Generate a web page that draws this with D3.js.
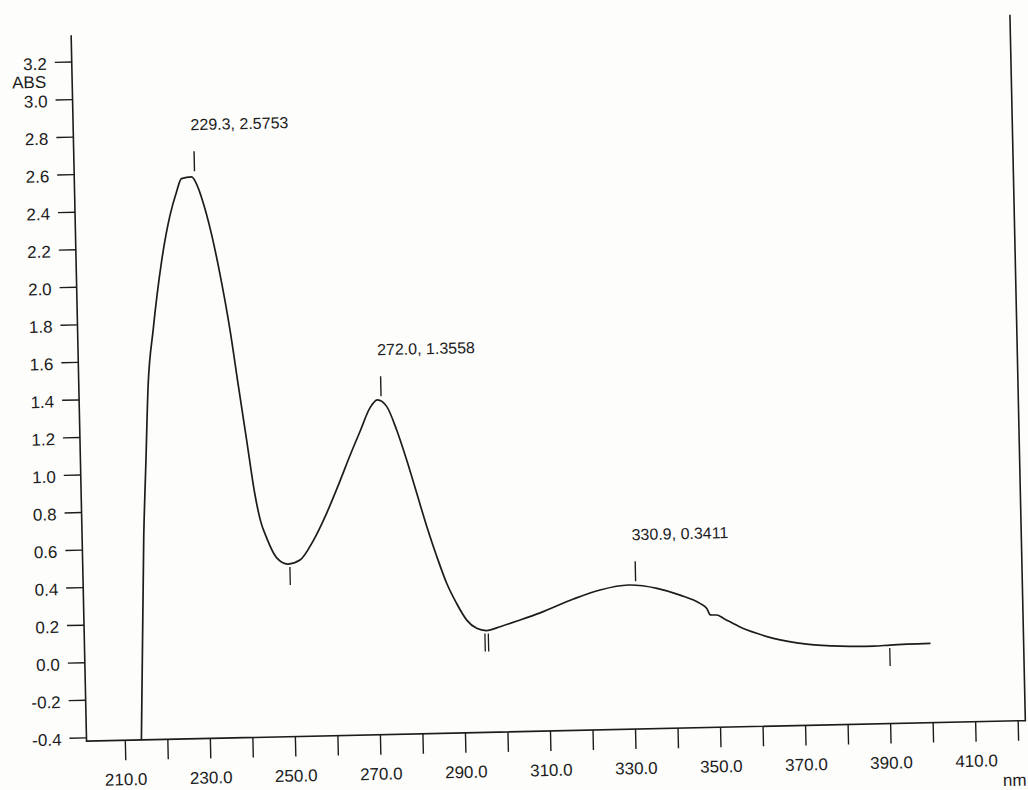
<!DOCTYPE html>
<html>
<head>
<meta charset="utf-8">
<script src="https://cdn.jsdelivr.net/npm/d3@7"></script>
<style>
  html, body { margin: 0; padding: 0; background: #fdfdfc; }
  svg { display: block; }
  text { font-family: "Liberation Sans", Arial, sans-serif; fill: #1c1c1c; }
</style>
</head>
<body>
<svg id="chart" width="1028" height="790"></svg>
<script>
// spectrum
let wavelength = [213.9, 215.5, 216.4, 217.3, 218.8, 221.1, 223.3, 225.0, 226.2, 228.6,
    230.1, 230.8, 233.0, 234.7, 236.8, 238.5, 240.2, 241.8, 243.0, 244.4, 246.6,
    249.3, 252.1, 255.3, 258.6, 261.9, 264.4, 266.9, 269.3, 271.1, 273.3,
    275.5, 277.7, 279.9, 282.1, 284.3, 286.5, 288.7, 291.0, 293.3, 295.6,
    298.8, 303.5, 308.3, 316.2, 322.5, 329.2, 335.9, 341.3, 345.9, 347.5,
    348.3, 349.8, 351.4, 355.2, 359.1, 363.0, 370.8, 378.7, 386.5, 390.4, 399.9]
let absorbance = [-0.42, 0.665, 1.066, 1.466, 1.767, 2.126, 2.368, 2.496, 2.564, 2.572,
    2.511, 2.462, 2.262, 2.059, 1.758, 1.456, 1.160, 0.880, 0.735, 0.640, 0.535,
    0.499, 0.519, 0.620, 0.765, 0.935, 1.070, 1.198, 1.320, 1.363, 1.326,
    1.200, 1.039, 0.861, 0.682, 0.521, 0.377, 0.270, 0.180, 0.135, 0.122,
    0.141, 0.174, 0.210, 0.280, 0.325, 0.348, 0.327, 0.288, 0.242, 0.214,
    0.179, 0.178, 0.159, 0.112, 0.076, 0.047, 0.013, -0.002, -0.006, -0.002, 0.002]

// picked peaks and valleys
let peakNm = [229.3, 272.0, 330.9]
let peakAbs = [2.5753, 1.3558, 0.3411]
let valleyNm = [249.7, 295.2, 296.0, 390.3]
let valleyAbs = [0.499, 0.122, 0.122, -0.002]

// axes
let xTicks = [210, 220, 230, 240, 250, 260, 270, 280, 290, 300, 310,
    320, 330, 340, 350, 360, 370, 380, 390, 400, 410, 420]
let xTickLabels = ['210.0', '230.0', '250.0', '270.0', '290.0', '310.0',
    '330.0', '350.0', '370.0', '390.0', '410.0']
let yTicks = [-0.4, -0.2, 0.0, 0.2, 0.4, 0.6, 0.8, 1.0, 1.2, 1.4, 1.6,
    1.8, 2.0, 2.2, 2.4, 2.6, 2.8, 3.0, 3.2]
let xDomain = [201, 421.8], yDomain = [-0.42, 3.34]

let ink = '#1c1c1c'
let x = d3.scaleLinear().domain(xDomain).range([79, 1018])
let y = d3.scaleLinear().domain(yDomain).range([731, 25])

// the scanned page is a little tilted
let g = d3.select('#chart').append('g')
    .attr('transform', 'rotate(-1.25 545 390)')

// frame: left, bottom and right, no top
g.append('path')
    .attr('d', `M${x(xDomain[0])},${y(yDomain[1])}V${y(yDomain[0])}H${x(xDomain[1])}V${y(yDomain[1])}`)
    .attr('fill', 'none')
    .attr('stroke', ink)
    .attr('stroke-width', 1.6)

let xAxis = d3.axisBottom(x)
    .tickValues(xTicks)
    .tickSize(20)
    .tickPadding(13)
    .tickFormat(function (d) {
        let s = d.toFixed(1)
        return xTickLabels.includes(s) ? s : ''
    })

let gx = g.append('g')
    .attr('transform', `translate(0,${y(yDomain[0])})`)
    .call(xAxis)
gx.select('.domain').remove()

let yAxis = d3.axisLeft(y)
    .tickValues(yTicks)
    .tickSize(17)
    .tickPadding(8)
    .tickFormat(function (d) {return d.toFixed(1);})

let gy = g.append('g')
    .attr('transform', `translate(${x(xDomain[0])},0)`)
    .call(yAxis)
gy.select('.domain').remove()
gy.selectAll('.tick text').attr('dy', '0.42em')

g.selectAll('.tick line').attr('stroke', ink).attr('stroke-width', 1.4)
g.selectAll('.tick text')
    .attr('font-size', 17)
    .attr('fill', ink)
    .style('font-family', '"Liberation Sans", Arial, sans-serif')

g.append('text')
    .attr('x', 53)
    .attr('y', 77)
    .attr('text-anchor', 'end')
    .attr('font-size', 17)
    .text('ABS')

g.append('text')
    .attr('x', x(xDomain[1]))
    .attr('y', 796)
    .attr('text-anchor', 'end')
    .attr('font-size', 17)
    .text('nm')

// spectrum line
let pts = wavelength.map(function (w, i) {return [w, absorbance[i]];})
let line = d3.line()
    .x(function (d) {return x(d[0]);})
    .y(function (d) {return y(d[1]);})
    .curve(d3.curveMonotoneX)

g.append('path')
    .datum(pts)
    .attr('d', line)
    .attr('fill', 'none')
    .attr('stroke', ink)
    .attr('stroke-width', 1.7)
    .attr('stroke-linejoin', 'round')

// peak markers and labels
let peaks = peakNm.map(function (w, i) {return {nm: w, abs: peakAbs[i]};})
g.selectAll('line.peak')
    .data(peaks)
    .join('line')
    .attr('class', 'peak')
    .attr('x1', function (d) {return x(d.nm);})
    .attr('x2', function (d) {return x(d.nm);})
    .attr('y1', function (d) {return y(d.abs) - 5;})
    .attr('y2', function (d) {return y(d.abs) - 25;})
    .attr('stroke', ink)
    .attr('stroke-width', 1.4)

g.selectAll('text.peak')
    .data(peaks)
    .join('text')
    .attr('class', 'peak')
    .attr('x', function (d) {return x(d.nm) - 3;})
    .attr('y', function (d) {return y(d.abs) - 46;})
    .attr('font-size', 16)
    .text(function (d) {return d.nm.toFixed(1) + ', ' + d.abs.toFixed(4);})

// valley markers
let valleys = valleyNm.map(function (w, i) {return {nm: w, abs: valleyAbs[i]};})
g.selectAll('line.valley')
    .data(valleys)
    .join('line')
    .attr('class', 'valley')
    .attr('x1', function (d) {return x(d.nm);})
    .attr('x2', function (d) {return x(d.nm);})
    .attr('y1', function (d) {return y(d.abs) + 3;})
    .attr('y2', function (d) {return y(d.abs) + 21;})
    .attr('stroke', ink)
    .attr('stroke-width', 1.3)
</script>
</body>
</html>
